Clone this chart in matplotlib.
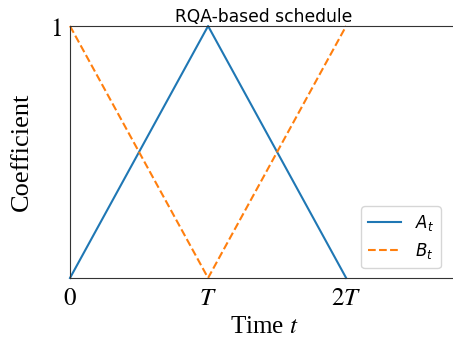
import numpy as np
import matplotlib
matplotlib.use("Agg")
import matplotlib.pyplot as plt

# schedule knots (in units of T)
t_knots = [0, 1, 2]
a_vals = [0, 1, 0]
b_vals = [1, 0, 1]
x_ticks = [0, 1, 2]
x_tick_labels = ["$0$", "$T$", "$2T$"]
y_ticks = [1]
y_tick_labels = ["$1$"]

plt.rcParams["font.family"] = "DejaVu Sans"

fig = plt.figure(figsize=(4.53, 3.38), dpi=100)
ax = fig.add_axes([70 / 453, 60 / 338, 388 / 453, 252 / 338])

ax.plot(t_knots, a_vals, color="C0", lw=1.5, label="$A_t$", clip_on=False)
ax.plot(t_knots, b_vals, color="C1", lw=1.5, ls="--", label="$B_t$", clip_on=False)

ax.set_xlim(0, 2.81)
ax.set_ylim(0, 1)

ax.set_xticks(x_ticks)
ax.set_xticklabels(x_tick_labels)
ax.set_yticks(y_ticks)
ax.set_yticklabels(y_tick_labels)
for lab in ax.get_xticklabels() + ax.get_yticklabels():
    lab.set_fontsize(18)
    lab.set_math_fontfamily("stix")
ax.tick_params(length=0, pad=6)

ax.set_xlabel("Time $t$", fontsize=18, family="Liberation Serif",
              math_fontfamily="stix", labelpad=4)
ax.set_ylabel("Coefficient", fontsize=19, family="Liberation Serif", labelpad=12)
ax.set_title("RQA-based schedule", fontsize=12.3, pad=3)

for s in ax.spines.values():
    s.set_color("#333333")

ax.legend(loc="lower right", fontsize=12, bbox_to_anchor=(0.955, 0.04),
          borderaxespad=0)

fig.savefig("out.png", dpi=100)
